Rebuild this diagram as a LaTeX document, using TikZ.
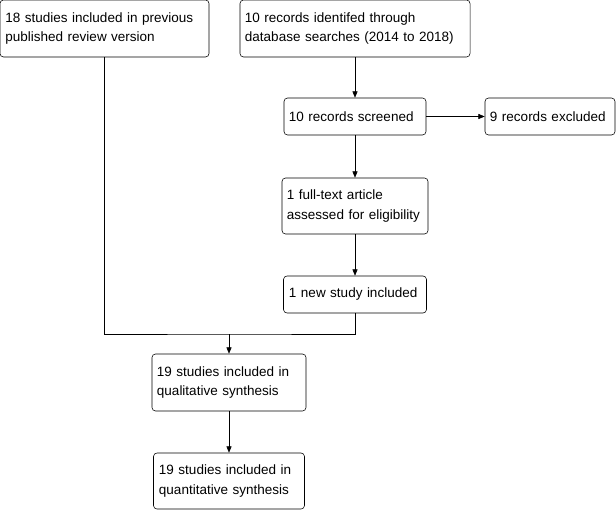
\documentclass[tikz,border=0pt]{standalone}
\usepackage{fontspec}
\setmainfont{Liberation Sans}
\usetikzlibrary{arrows.meta}

\begin{document}
\begin{tikzpicture}[x=0.025cm, y=-0.025cm, font=\fontsize{9.6}{13.8}\selectfont, >={Triangle[length=4.5pt, width=3.6pt]},
    stage/.style={draw, rounded corners=2.5pt, align=left, inner xsep=3pt, inner ysep=0pt}]
        \useasboundingbox (0,0) rectangle (616,510);
        \def\Lx{104.5} \def\Mx{355} \def\Rx{550} \def\Bx{229}
        \node[stage, minimum width=5.225cm, minimum height=1.425cm, text width=4.95cm] (prev) at (\Lx,28.5) {18 studies included in previous\\published review version};
        \node[stage, minimum width=5.75cm, minimum height=1.425cm, text width=5.5cm] (search) at (\Mx,28.5) {10 records identifed through\\database searches (2014 to 2018)};
        \node[stage, minimum width=3.55cm, minimum height=0.925cm, text width=3.3cm] (screen) at (\Mx,116.5) {10 records screened};
        \node[stage, minimum width=3.25cm, minimum height=0.925cm, text width=3.0cm] (excl) at (\Rx,116.5) {9 records excluded};
        \node[stage, minimum width=3.65cm, minimum height=1.4cm, text width=3.4cm] (full) at (\Mx,206) {1 full-text article\\assessed for eligibility};
        \node[stage, minimum width=3.575cm, minimum height=0.925cm, text width=3.3cm] (new) at (\Mx,294.5) {1 new study included};
        \node[stage, minimum width=3.85cm, minimum height=1.425cm, text width=3.6cm] (qual) at (\Bx,382.5) {19 studies included in\\qualitative synthesis};
        \node[stage, minimum width=3.775cm, minimum height=1.4cm, text width=3.5cm] (quant) at (\Bx,481) {19 studies included in\\quantitative synthesis};

        \coordinate (merge) at (\Bx,334);

        \draw[->] (search) -- (screen);
        \draw[->] (screen) -- (excl);
        \draw[->] (screen) -- (full);
        \draw[->] (full) -- (new);
        \draw (prev.south) |- (merge) -| (new.south);
        \draw[->] (merge) -- (qual);
        \draw[->] (qual) -- (quant);
    \end{tikzpicture}
\end{document}
